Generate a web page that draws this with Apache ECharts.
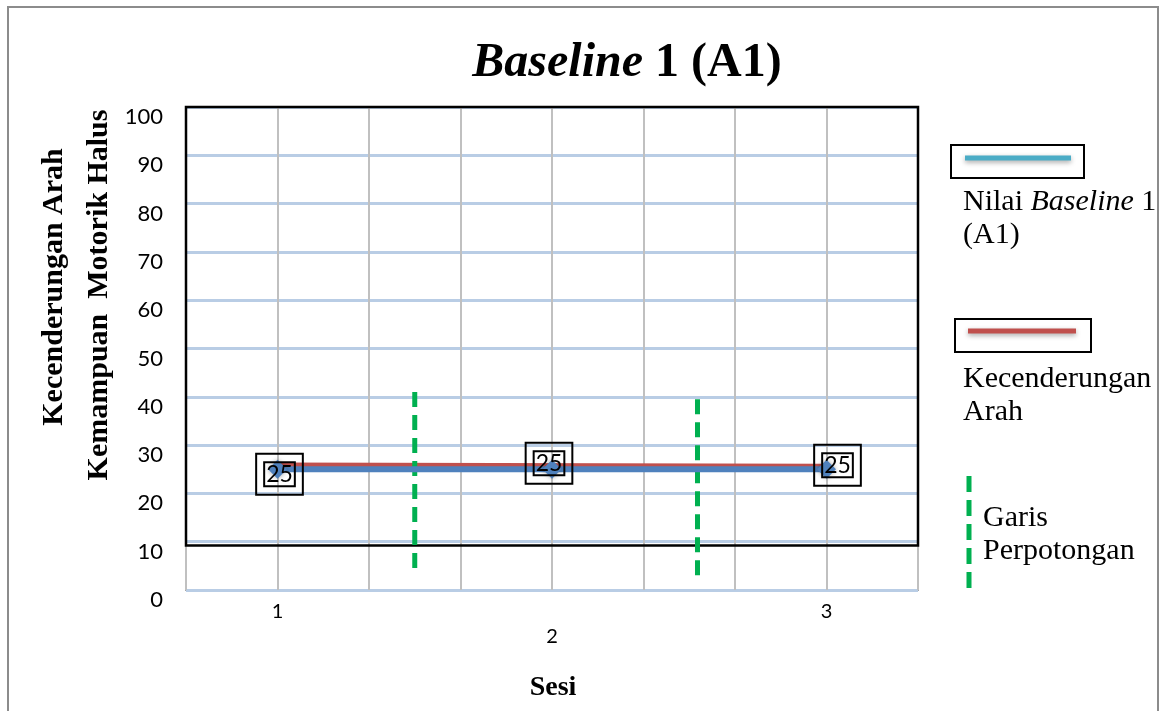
<!DOCTYPE html>
<html>
<head>
<meta charset="utf-8">
<title>Baseline 1 (A1)</title>
<script src="https://cdn.jsdelivr.net/npm/echarts@6/dist/echarts.min.js"></script>
<style>
  html, body { margin: 0; padding: 0; background: #fff; }
  #chart { width: 1167px; height: 711px; }
</style>
</head>
<body>
<div id="chart"></div>
<script>
// Sessions and recorded scores for baseline phase A1
const sessions = [1, 2, 3];
const scores = [25, 25, 25];

// Trend line (kecenderungan arah) endpoints
const trendSessions = [1, 3];
const trendValues = [25.9, 25.6];

// Vertical split lines (garis perpotongan): session position, top and bottom value
const cutPositions = [1.5, 2.53];
const cutTops = [41, 39.5];
const cutBottom = 3;

// Y tick range
const yMin = 0, yMax = 100, yStep = 10;

// Lower edge of the framed upper band
const bandFloor = 9.2;

// Score label nudges (px) so the boxed labels sit like the printed chart
const labelNudge = [[2, 5], [-3, -6], [11, -4]];

const SERIF = '"Liberation Serif", "Times New Roman", serif';
const SANS = 'Lato, "Open Sans", sans-serif';

const xMin = 2 / 3, xMax = 10 / 3, xStep = 1 / 3;

const chart = echarts.init(document.getElementById('chart'), null, { renderer: 'canvas' });

const cutSeries = cutPositions.map((x, i) => ({
  type: 'line',
  silent: true,
  symbol: 'none',
  z: 4,
  lineStyle: { color: '#00b050', width: 5, type: [15, 8] },
  data: [[x, cutTops[i]], [x, cutBottom]]
}));

chart.setOption({
  animation: false,
  grid: {
    left: 186, right: 249, top: 107, bottom: 121,
    outerBoundsMode: 'none',
    containLabel: false,
    show: true, borderColor: '#a6a6a6', borderWidth: 2
  },
  xAxis: {
    type: 'value',
    min: xMin, max: xMax, interval: xStep,
    axisLine: { show: false },
    axisTick: { show: false },
    splitLine: { show: true, lineStyle: { color: '#c0c0c0', width: 2 } },
    axisLabel: {
      margin: 12,
      formatter: v => {
        const r = Math.round(v * 3);
        if (r % 3 !== 0) return '';
        const s = r / 3;
        return s === 2 ? '{lo|' + s + '}' : '{n|' + s + '}';
      },
      rich: {
        n: { fontFamily: SANS, fontSize: 20, color: '#000' },
        lo: { fontFamily: SANS, fontSize: 20, color: '#000', padding: [25, 0, 0, 0] }
      }
    }
  },
  yAxis: {
    type: 'value',
    min: yMin, max: yMax, interval: yStep,
    axisLine: { show: false },
    axisTick: { show: false },
    splitLine: { show: true, lineStyle: { color: '#b9cde5', width: 3 } },
    axisLabel: {
      margin: 23,
      formatter: v => '{a|' + v + '}',
      rich: {
        a: { fontFamily: SANS, fontSize: 22, color: '#000', padding: [20, 0, 0, 0] }
      }
    }
  },
  series: [
    {
      type: 'line',
      name: 'Kecenderungan Arah',
      silent: true,
      symbol: 'none',
      z: 3,
      lineStyle: { color: '#c0504d', width: 5 },
      data: trendSessions.map((s, i) => [s, trendValues[i]]),
      markArea: {
        silent: true,
        itemStyle: { color: 'rgba(0,0,0,0)', borderColor: '#000', borderWidth: 2.5 },
        data: [[{ coord: [xMin, bandFloor] }, { coord: [xMax, yMax] }]]
      }
    },
    {
      type: 'line',
      name: 'Nilai Baseline 1 (A1)',
      silent: true,
      z: 5,
      symbol: 'diamond',
      symbolSize: 19,
      itemStyle: { color: '#4f81bd', shadowBlur: 5, shadowColor: 'rgba(0,0,0,0.35)' },
      lineStyle: { color: '#4f81bd', width: 6 },
      data: sessions.map((s, i) => ({
        value: [s, scores[i]],
        label: { offset: labelNudge[i] }
      })),
      label: {
        show: true,
        position: 'inside',
        formatter: p => '{in|' + p.value[1] + '}',
        borderColor: '#000',
        borderWidth: 2,
        padding: [8, 8, 8, 8],
        rich: {
          in: {
            fontFamily: SANS, fontSize: 23, color: '#000',
            lineHeight: 25,
            borderColor: '#000', borderWidth: 2,
            padding: [1, 2, 0, 2]
          }
        }
      }
    },
    ...cutSeries
  ],
  graphic: [
    // outer frame
    { type: 'rect', silent: true, z: -10,
      shape: { x: 8, y: 7, width: 1150, height: 715 },
      style: { fill: '#fff', stroke: '#8c8c8c', lineWidth: 2 } },
    // chart title
    { type: 'text', silent: true, x: 627, y: 64,
      style: {
        text: '{i|Baseline}{b| 1 (A1)}',
        align: 'center', verticalAlign: 'middle',
        rich: {
          i: { fontFamily: SERIF, fontSize: 48, fontWeight: 'bold', fontStyle: 'italic', fill: '#000' },
          b: { fontFamily: SERIF, fontSize: 48, fontWeight: 'bold', fill: '#000' }
        }
      } },
    // y axis title, two rotated lines
    { type: 'text', silent: true, x: 54, y: 287, rotation: Math.PI / 2,
      style: { text: 'Kecenderungan Arah', align: 'center', verticalAlign: 'middle',
        fontFamily: SERIF, fontSize: 30, fontWeight: 'bold', fill: '#000' } },
    { type: 'text', silent: true, x: 99, y: 295, rotation: Math.PI / 2,
      style: { text: 'Kemampuan  Motorik Halus', align: 'center', verticalAlign: 'middle',
        fontFamily: SERIF, fontSize: 30, fontWeight: 'bold', fill: '#000' } },
    // x axis title
    { type: 'text', silent: true, x: 553, y: 688,
      style: { text: 'Sesi', align: 'center', verticalAlign: 'middle',
        fontFamily: SERIF, fontSize: 28, fontWeight: 'bold', fill: '#000' } },

    // legend: score line
    { type: 'rect', silent: true, shape: { x: 951, y: 145, width: 133, height: 33 },
      style: { fill: '#fff', stroke: '#000', lineWidth: 2 } },
    { type: 'line', silent: true, shape: { x1: 965, y1: 158, x2: 1071, y2: 158 },
      style: { stroke: '#4bacc6', lineWidth: 5, shadowBlur: 5, shadowOffsetY: 2, shadowColor: 'rgba(0,0,0,0.35)' } },
    { type: 'text', silent: true, x: 963, y: 202,
      style: { text: 'Nilai {i|Baseline} 1', verticalAlign: 'middle',
        fontFamily: SERIF, fontSize: 30, fill: '#000',
        rich: { i: { fontFamily: SERIF, fontSize: 30, fontStyle: 'italic', fill: '#000' } } } },
    { type: 'text', silent: true, x: 963, y: 235,
      style: { text: '(A1)', verticalAlign: 'middle', fontFamily: SERIF, fontSize: 30, fill: '#000' } },

    // legend: trend line
    { type: 'rect', silent: true, shape: { x: 955, y: 319, width: 136, height: 33 },
      style: { fill: '#fff', stroke: '#000', lineWidth: 2 } },
    { type: 'line', silent: true, shape: { x1: 968, y1: 331, x2: 1076, y2: 331 },
      style: { stroke: '#c0504d', lineWidth: 5, shadowBlur: 5, shadowOffsetY: 2, shadowColor: 'rgba(0,0,0,0.35)' } },
    { type: 'text', silent: true, x: 963, y: 379,
      style: { text: 'Kecenderungan', verticalAlign: 'middle', fontFamily: SERIF, fontSize: 30, fill: '#000' } },
    { type: 'text', silent: true, x: 963, y: 412,
      style: { text: 'Arah', verticalAlign: 'middle', fontFamily: SERIF, fontSize: 30, fill: '#000' } },

    // legend: split lines
    { type: 'line', silent: true, shape: { x1: 969, y1: 476, x2: 969, y2: 590 },
      style: { stroke: '#00b050', lineWidth: 5, lineDash: [16, 8] } },
    { type: 'text', silent: true, x: 983, y: 518,
      style: { text: 'Garis', verticalAlign: 'middle', fontFamily: SERIF, fontSize: 30, fill: '#000' } },
    { type: 'text', silent: true, x: 983, y: 551,
      style: { text: 'Perpotongan', verticalAlign: 'middle', fontFamily: SERIF, fontSize: 30, fill: '#000' } }
  ]
});
</script>
</body>
</html>
